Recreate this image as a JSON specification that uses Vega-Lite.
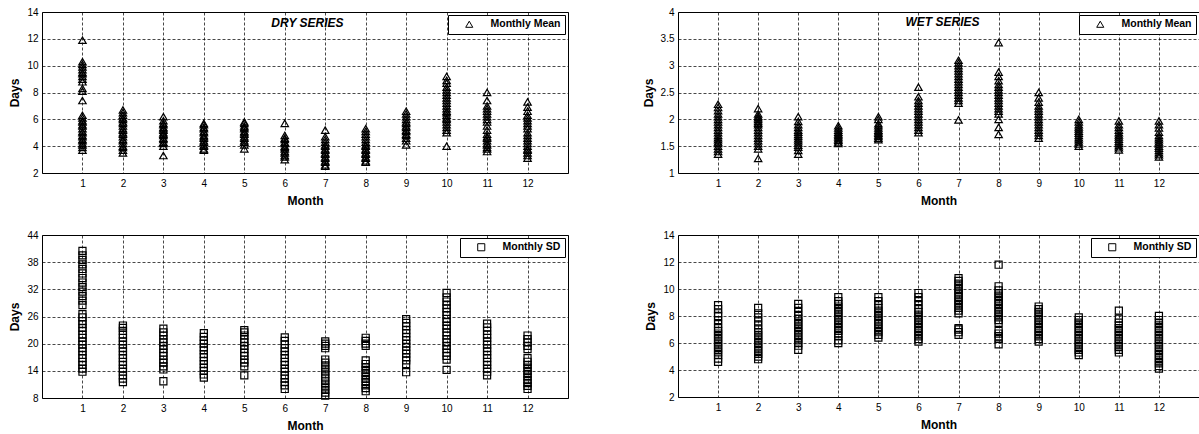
{
  "$schema": "https://vega.github.io/schema/vega-lite/v6.json",
  "padding": {"left": 8, "top": 6, "right": 0, "bottom": 0},
  "background": "white",
  "datasets": {
    "dm": [
      {"m":1,"v":3.7},{"m":1,"v":3.9},{"m":1,"v":4.1},{"m":1,"v":4.2},{"m":1,"v":4.4},{"m":1,"v":4.5},{"m":1,"v":4.7},{"m":1,"v":4.8},{"m":1,"v":5.0},{"m":1,"v":5.1},{"m":1,"v":5.3},{"m":1,"v":5.5},{"m":1,"v":5.6},{"m":1,"v":5.8},{"m":1,"v":5.9},{"m":1,"v":6.1},{"m":1,"v":6.3},{"m":1,"v":7.4},{"m":1,"v":8.1},{"m":1,"v":8.3},{"m":1,"v":8.8},{"m":1,"v":9.0},{"m":1,"v":9.2},{"m":1,"v":9.4},{"m":1,"v":9.5},{"m":1,"v":9.7},{"m":1,"v":9.9},{"m":1,"v":10.1},{"m":1,"v":10.3},{"m":1,"v":11.9},
      {"m":2,"v":3.5},{"m":2,"v":3.7},{"m":2,"v":3.9},{"m":2,"v":4.0},{"m":2,"v":4.2},{"m":2,"v":4.4},{"m":2,"v":4.5},{"m":2,"v":4.7},{"m":2,"v":4.9},{"m":2,"v":5.0},{"m":2,"v":5.2},{"m":2,"v":5.3},{"m":2,"v":5.5},{"m":2,"v":5.7},{"m":2,"v":5.8},{"m":2,"v":6.0},{"m":2,"v":6.1},{"m":2,"v":6.3},{"m":2,"v":6.5},{"m":2,"v":6.7},
      {"m":3,"v":3.3},{"m":3,"v":4.0},{"m":3,"v":4.2},{"m":3,"v":4.3},{"m":3,"v":4.5},{"m":3,"v":4.6},{"m":3,"v":4.8},{"m":3,"v":4.9},{"m":3,"v":5.0},{"m":3,"v":5.2},{"m":3,"v":5.3},{"m":3,"v":5.4},{"m":3,"v":5.6},{"m":3,"v":5.7},{"m":3,"v":5.9},{"m":3,"v":6.2},
      {"m":4,"v":3.7},{"m":4,"v":3.8},{"m":4,"v":4.0},{"m":4,"v":4.1},{"m":4,"v":4.3},{"m":4,"v":4.4},{"m":4,"v":4.6},{"m":4,"v":4.7},{"m":4,"v":4.8},{"m":4,"v":5.0},{"m":4,"v":5.1},{"m":4,"v":5.3},{"m":4,"v":5.4},{"m":4,"v":5.6},{"m":4,"v":5.7},
      {"m":5,"v":3.8},{"m":5,"v":4.1},{"m":5,"v":4.3},{"m":5,"v":4.4},{"m":5,"v":4.6},{"m":5,"v":4.7},{"m":5,"v":4.9},{"m":5,"v":5.0},{"m":5,"v":5.1},{"m":5,"v":5.3},{"m":5,"v":5.4},{"m":5,"v":5.5},{"m":5,"v":5.7},{"m":5,"v":5.8},
      {"m":6,"v":3.0},{"m":6,"v":3.2},{"m":6,"v":3.3},{"m":6,"v":3.5},{"m":6,"v":3.6},{"m":6,"v":3.8},{"m":6,"v":3.9},{"m":6,"v":4.0},{"m":6,"v":4.2},{"m":6,"v":4.3},{"m":6,"v":4.5},{"m":6,"v":4.6},{"m":6,"v":4.8},{"m":6,"v":5.7},
      {"m":7,"v":2.5},{"m":7,"v":2.6},{"m":7,"v":2.8},{"m":7,"v":2.9},{"m":7,"v":3.1},{"m":7,"v":3.2},{"m":7,"v":3.4},{"m":7,"v":3.5},{"m":7,"v":3.7},{"m":7,"v":3.8},{"m":7,"v":4.0},{"m":7,"v":4.1},{"m":7,"v":4.3},{"m":7,"v":4.5},{"m":7,"v":4.7},{"m":7,"v":5.2},
      {"m":8,"v":2.8},{"m":8,"v":2.9},{"m":8,"v":3.1},{"m":8,"v":3.2},{"m":8,"v":3.4},{"m":8,"v":3.5},{"m":8,"v":3.7},{"m":8,"v":3.8},{"m":8,"v":4.0},{"m":8,"v":4.1},{"m":8,"v":4.3},{"m":8,"v":4.5},{"m":8,"v":4.7},{"m":8,"v":4.9},{"m":8,"v":5.1},{"m":8,"v":5.3},
      {"m":9,"v":4.1},{"m":9,"v":4.4},{"m":9,"v":4.6},{"m":9,"v":4.8},{"m":9,"v":4.9},{"m":9,"v":5.1},{"m":9,"v":5.2},{"m":9,"v":5.4},{"m":9,"v":5.5},{"m":9,"v":5.7},{"m":9,"v":5.8},{"m":9,"v":6.0},{"m":9,"v":6.2},{"m":9,"v":6.4},{"m":9,"v":6.6},
      {"m":10,"v":4.0},{"m":10,"v":5.0},{"m":10,"v":5.2},{"m":10,"v":5.4},{"m":10,"v":5.6},{"m":10,"v":5.8},{"m":10,"v":6.0},{"m":10,"v":6.1},{"m":10,"v":6.3},{"m":10,"v":6.5},{"m":10,"v":6.6},{"m":10,"v":6.8},{"m":10,"v":7.0},{"m":10,"v":7.2},{"m":10,"v":7.4},{"m":10,"v":7.6},{"m":10,"v":7.8},{"m":10,"v":8.0},{"m":10,"v":8.2},{"m":10,"v":8.4},{"m":10,"v":8.7},{"m":10,"v":8.9},{"m":10,"v":9.2},
      {"m":11,"v":3.6},{"m":11,"v":3.8},{"m":11,"v":3.9},{"m":11,"v":4.1},{"m":11,"v":4.2},{"m":11,"v":4.4},{"m":11,"v":4.6},{"m":11,"v":4.7},{"m":11,"v":4.9},{"m":11,"v":5.2},{"m":11,"v":5.5},{"m":11,"v":5.8},{"m":11,"v":6.0},{"m":11,"v":6.2},{"m":11,"v":6.4},{"m":11,"v":6.6},{"m":11,"v":6.8},{"m":11,"v":7.0},{"m":11,"v":7.4},{"m":11,"v":8.0},
      {"m":12,"v":3.1},{"m":12,"v":3.3},{"m":12,"v":3.5},{"m":12,"v":3.7},{"m":12,"v":3.8},{"m":12,"v":4.0},{"m":12,"v":4.2},{"m":12,"v":4.4},{"m":12,"v":4.6},{"m":12,"v":4.8},{"m":12,"v":5.0},{"m":12,"v":5.3},{"m":12,"v":5.5},{"m":12,"v":5.7},{"m":12,"v":5.9},{"m":12,"v":6.1},{"m":12,"v":6.3},{"m":12,"v":6.6},{"m":12,"v":6.9},{"m":12,"v":7.3}
    ],
    "wm": [
      {"m":1,"v":1.35},{"m":1,"v":1.4},{"m":1,"v":1.45},{"m":1,"v":1.5},{"m":1,"v":1.55},{"m":1,"v":1.58},{"m":1,"v":1.62},{"m":1,"v":1.66},{"m":1,"v":1.7},{"m":1,"v":1.75},{"m":1,"v":1.8},{"m":1,"v":1.85},{"m":1,"v":1.9},{"m":1,"v":1.95},{"m":1,"v":2.0},{"m":1,"v":2.05},{"m":1,"v":2.1},{"m":1,"v":2.16},{"m":1,"v":2.22},{"m":1,"v":2.28},
      {"m":2,"v":1.27},{"m":2,"v":1.45},{"m":2,"v":1.5},{"m":2,"v":1.55},{"m":2,"v":1.6},{"m":2,"v":1.65},{"m":2,"v":1.7},{"m":2,"v":1.75},{"m":2,"v":1.8},{"m":2,"v":1.85},{"m":2,"v":1.9},{"m":2,"v":1.93},{"m":2,"v":1.96},{"m":2,"v":2.0},{"m":2,"v":2.03},{"m":2,"v":2.06},{"m":2,"v":2.1},{"m":2,"v":2.2},
      {"m":3,"v":1.35},{"m":3,"v":1.42},{"m":3,"v":1.48},{"m":3,"v":1.52},{"m":3,"v":1.56},{"m":3,"v":1.6},{"m":3,"v":1.64},{"m":3,"v":1.68},{"m":3,"v":1.72},{"m":3,"v":1.76},{"m":3,"v":1.8},{"m":3,"v":1.85},{"m":3,"v":1.9},{"m":3,"v":1.96},{"m":3,"v":2.05},
      {"m":4,"v":1.55},{"m":4,"v":1.58},{"m":4,"v":1.61},{"m":4,"v":1.64},{"m":4,"v":1.67},{"m":4,"v":1.7},{"m":4,"v":1.73},{"m":4,"v":1.76},{"m":4,"v":1.8},{"m":4,"v":1.84},{"m":4,"v":1.88},
      {"m":5,"v":1.62},{"m":5,"v":1.65},{"m":5,"v":1.68},{"m":5,"v":1.71},{"m":5,"v":1.74},{"m":5,"v":1.77},{"m":5,"v":1.8},{"m":5,"v":1.84},{"m":5,"v":1.88},{"m":5,"v":1.92},{"m":5,"v":2.0},{"m":5,"v":2.05},
      {"m":6,"v":1.75},{"m":6,"v":1.8},{"m":6,"v":1.85},{"m":6,"v":1.9},{"m":6,"v":1.95},{"m":6,"v":2.0},{"m":6,"v":2.05},{"m":6,"v":2.1},{"m":6,"v":2.15},{"m":6,"v":2.2},{"m":6,"v":2.25},{"m":6,"v":2.3},{"m":6,"v":2.35},{"m":6,"v":2.42},{"m":6,"v":2.6},
      {"m":7,"v":1.99},{"m":7,"v":2.3},{"m":7,"v":2.35},{"m":7,"v":2.4},{"m":7,"v":2.45},{"m":7,"v":2.5},{"m":7,"v":2.55},{"m":7,"v":2.6},{"m":7,"v":2.65},{"m":7,"v":2.7},{"m":7,"v":2.75},{"m":7,"v":2.8},{"m":7,"v":2.85},{"m":7,"v":2.9},{"m":7,"v":2.95},{"m":7,"v":3.0},{"m":7,"v":3.05},{"m":7,"v":3.1},
      {"m":8,"v":1.72},{"m":8,"v":1.85},{"m":8,"v":2.0},{"m":8,"v":2.1},{"m":8,"v":2.15},{"m":8,"v":2.2},{"m":8,"v":2.25},{"m":8,"v":2.3},{"m":8,"v":2.35},{"m":8,"v":2.4},{"m":8,"v":2.45},{"m":8,"v":2.5},{"m":8,"v":2.55},{"m":8,"v":2.6},{"m":8,"v":2.65},{"m":8,"v":2.72},{"m":8,"v":2.8},{"m":8,"v":2.88},{"m":8,"v":3.43},
      {"m":9,"v":1.65},{"m":9,"v":1.7},{"m":9,"v":1.75},{"m":9,"v":1.8},{"m":9,"v":1.85},{"m":9,"v":1.9},{"m":9,"v":1.95},{"m":9,"v":2.0},{"m":9,"v":2.05},{"m":9,"v":2.1},{"m":9,"v":2.15},{"m":9,"v":2.2},{"m":9,"v":2.25},{"m":9,"v":2.32},{"m":9,"v":2.4},{"m":9,"v":2.5},
      {"m":10,"v":1.5},{"m":10,"v":1.54},{"m":10,"v":1.58},{"m":10,"v":1.62},{"m":10,"v":1.66},{"m":10,"v":1.7},{"m":10,"v":1.74},{"m":10,"v":1.78},{"m":10,"v":1.82},{"m":10,"v":1.86},{"m":10,"v":1.9},{"m":10,"v":1.95},{"m":10,"v":2.0},
      {"m":11,"v":1.43},{"m":11,"v":1.47},{"m":11,"v":1.51},{"m":11,"v":1.55},{"m":11,"v":1.59},{"m":11,"v":1.63},{"m":11,"v":1.67},{"m":11,"v":1.71},{"m":11,"v":1.75},{"m":11,"v":1.8},{"m":11,"v":1.85},{"m":11,"v":1.9},{"m":11,"v":1.97},
      {"m":12,"v":1.3},{"m":12,"v":1.34},{"m":12,"v":1.38},{"m":12,"v":1.42},{"m":12,"v":1.46},{"m":12,"v":1.5},{"m":12,"v":1.54},{"m":12,"v":1.58},{"m":12,"v":1.62},{"m":12,"v":1.66},{"m":12,"v":1.7},{"m":12,"v":1.76},{"m":12,"v":1.84},{"m":12,"v":1.9},{"m":12,"v":1.97}
    ],
    "ds": [
      {"m":1,"v":13.8},{"m":1,"v":14.5},{"m":1,"v":15.3},{"m":1,"v":16.0},{"m":1,"v":16.8},{"m":1,"v":17.5},{"m":1,"v":18.3},{"m":1,"v":19.0},{"m":1,"v":19.8},{"m":1,"v":20.5},{"m":1,"v":21.3},{"m":1,"v":22.0},{"m":1,"v":22.8},{"m":1,"v":23.5},{"m":1,"v":24.3},{"m":1,"v":25.0},{"m":1,"v":25.8},{"m":1,"v":26.5},{"m":1,"v":28.5},{"m":1,"v":29.5},{"m":1,"v":30.5},{"m":1,"v":31.5},{"m":1,"v":32.5},{"m":1,"v":33.5},{"m":1,"v":34.5},{"m":1,"v":35.5},{"m":1,"v":36.5},{"m":1,"v":37.5},{"m":1,"v":38.5},{"m":1,"v":39.5},{"m":1,"v":40.5},
      {"m":2,"v":11.5},{"m":2,"v":12.3},{"m":2,"v":13.0},{"m":2,"v":13.8},{"m":2,"v":14.5},{"m":2,"v":15.3},{"m":2,"v":16.0},{"m":2,"v":16.8},{"m":2,"v":17.5},{"m":2,"v":18.3},{"m":2,"v":19.0},{"m":2,"v":19.8},{"m":2,"v":20.5},{"m":2,"v":21.3},{"m":2,"v":22.0},{"m":2,"v":22.8},{"m":2,"v":23.5},{"m":2,"v":24.0},
      {"m":3,"v":11.7},{"m":3,"v":14.3},{"m":3,"v":15.0},{"m":3,"v":15.8},{"m":3,"v":16.5},{"m":3,"v":17.3},{"m":3,"v":18.0},{"m":3,"v":18.8},{"m":3,"v":19.5},{"m":3,"v":20.3},{"m":3,"v":21.0},{"m":3,"v":21.8},{"m":3,"v":22.5},{"m":3,"v":23.3},
      {"m":4,"v":12.5},{"m":4,"v":13.2},{"m":4,"v":14.0},{"m":4,"v":14.7},{"m":4,"v":15.5},{"m":4,"v":16.2},{"m":4,"v":17.0},{"m":4,"v":17.7},{"m":4,"v":18.5},{"m":4,"v":19.2},{"m":4,"v":20.0},{"m":4,"v":20.7},{"m":4,"v":21.5},{"m":4,"v":22.3},
      {"m":5,"v":13.0},{"m":5,"v":15.0},{"m":5,"v":15.8},{"m":5,"v":16.5},{"m":5,"v":17.3},{"m":5,"v":18.0},{"m":5,"v":18.8},{"m":5,"v":19.5},{"m":5,"v":20.3},{"m":5,"v":21.0},{"m":5,"v":21.8},{"m":5,"v":22.5},{"m":5,"v":23.0},
      {"m":6,"v":10.0},{"m":6,"v":10.8},{"m":6,"v":11.5},{"m":6,"v":12.3},{"m":6,"v":13.0},{"m":6,"v":13.8},{"m":6,"v":14.5},{"m":6,"v":15.3},{"m":6,"v":16.0},{"m":6,"v":16.8},{"m":6,"v":17.5},{"m":6,"v":18.3},{"m":6,"v":19.0},{"m":6,"v":19.8},{"m":6,"v":20.6},{"m":6,"v":21.4},
      {"m":7,"v":8.5},{"m":7,"v":9.2},{"m":7,"v":9.8},{"m":7,"v":10.5},{"m":7,"v":11.2},{"m":7,"v":11.8},{"m":7,"v":12.5},{"m":7,"v":13.2},{"m":7,"v":13.8},{"m":7,"v":14.5},{"m":7,"v":15.2},{"m":7,"v":15.8},{"m":7,"v":16.5},{"m":7,"v":19.0},{"m":7,"v":19.5},{"m":7,"v":20.0},{"m":7,"v":20.5},
      {"m":8,"v":9.5},{"m":8,"v":10.2},{"m":8,"v":10.8},{"m":8,"v":11.5},{"m":8,"v":12.2},{"m":8,"v":12.8},{"m":8,"v":13.5},{"m":8,"v":14.2},{"m":8,"v":14.8},{"m":8,"v":15.5},{"m":8,"v":16.3},{"m":8,"v":19.5},{"m":8,"v":20.0},{"m":8,"v":20.6},{"m":8,"v":21.3},
      {"m":9,"v":13.7},{"m":9,"v":15.5},{"m":9,"v":16.3},{"m":9,"v":17.0},{"m":9,"v":17.8},{"m":9,"v":18.5},{"m":9,"v":19.3},{"m":9,"v":20.0},{"m":9,"v":20.8},{"m":9,"v":21.5},{"m":9,"v":22.3},{"m":9,"v":23.0},{"m":9,"v":23.8},{"m":9,"v":24.6},{"m":9,"v":25.4},
      {"m":10,"v":14.2},{"m":10,"v":16.5},{"m":10,"v":17.3},{"m":10,"v":18.0},{"m":10,"v":18.8},{"m":10,"v":19.5},{"m":10,"v":20.3},{"m":10,"v":21.0},{"m":10,"v":21.8},{"m":10,"v":22.5},{"m":10,"v":23.3},{"m":10,"v":24.0},{"m":10,"v":24.8},{"m":10,"v":25.5},{"m":10,"v":26.3},{"m":10,"v":27.0},{"m":10,"v":27.8},{"m":10,"v":28.5},{"m":10,"v":29.3},{"m":10,"v":30.2},{"m":10,"v":31.2},
      {"m":11,"v":13.0},{"m":11,"v":13.8},{"m":11,"v":14.5},{"m":11,"v":15.3},{"m":11,"v":16.0},{"m":11,"v":16.8},{"m":11,"v":17.5},{"m":11,"v":18.3},{"m":11,"v":19.0},{"m":11,"v":19.8},{"m":11,"v":20.5},{"m":11,"v":21.3},{"m":11,"v":22.0},{"m":11,"v":22.8},{"m":11,"v":23.6},{"m":11,"v":24.4},
      {"m":12,"v":10.0},{"m":12,"v":10.7},{"m":12,"v":11.3},{"m":12,"v":12.0},{"m":12,"v":12.7},{"m":12,"v":13.3},{"m":12,"v":14.0},{"m":12,"v":14.7},{"m":12,"v":15.3},{"m":12,"v":16.0},{"m":12,"v":16.8},{"m":12,"v":18.8},{"m":12,"v":19.5},{"m":12,"v":20.3},{"m":12,"v":21.0},{"m":12,"v":21.8}
    ],
    "ws": [
      {"m":1,"v":4.6},{"m":1,"v":4.85},{"m":1,"v":5.1},{"m":1,"v":5.3},{"m":1,"v":5.5},{"m":1,"v":5.7},{"m":1,"v":5.9},{"m":1,"v":6.1},{"m":1,"v":6.3},{"m":1,"v":6.5},{"m":1,"v":6.7},{"m":1,"v":6.9},{"m":1,"v":7.1},{"m":1,"v":7.4},{"m":1,"v":7.7},{"m":1,"v":8.0},{"m":1,"v":8.2},{"m":1,"v":8.5},{"m":1,"v":8.8},
      {"m":2,"v":4.8},{"m":2,"v":5.0},{"m":2,"v":5.2},{"m":2,"v":5.4},{"m":2,"v":5.6},{"m":2,"v":5.8},{"m":2,"v":6.0},{"m":2,"v":6.2},{"m":2,"v":6.4},{"m":2,"v":6.6},{"m":2,"v":6.8},{"m":2,"v":7.0},{"m":2,"v":7.3},{"m":2,"v":7.6},{"m":2,"v":7.9},{"m":2,"v":8.2},{"m":2,"v":8.6},
      {"m":3,"v":5.5},{"m":3,"v":5.8},{"m":3,"v":6.0},{"m":3,"v":6.2},{"m":3,"v":6.4},{"m":3,"v":6.6},{"m":3,"v":6.8},{"m":3,"v":7.0},{"m":3,"v":7.2},{"m":3,"v":7.4},{"m":3,"v":7.6},{"m":3,"v":7.8},{"m":3,"v":8.0},{"m":3,"v":8.3},{"m":3,"v":8.6},{"m":3,"v":8.9},
      {"m":4,"v":6.0},{"m":4,"v":6.2},{"m":4,"v":6.5},{"m":4,"v":6.7},{"m":4,"v":6.9},{"m":4,"v":7.1},{"m":4,"v":7.3},{"m":4,"v":7.5},{"m":4,"v":7.7},{"m":4,"v":7.9},{"m":4,"v":8.1},{"m":4,"v":8.3},{"m":4,"v":8.5},{"m":4,"v":8.7},{"m":4,"v":8.9},{"m":4,"v":9.1},{"m":4,"v":9.4},
      {"m":5,"v":6.4},{"m":5,"v":6.6},{"m":5,"v":6.8},{"m":5,"v":7.0},{"m":5,"v":7.2},{"m":5,"v":7.4},{"m":5,"v":7.6},{"m":5,"v":7.8},{"m":5,"v":8.0},{"m":5,"v":8.2},{"m":5,"v":8.4},{"m":5,"v":8.6},{"m":5,"v":8.8},{"m":5,"v":9.1},{"m":5,"v":9.4},
      {"m":6,"v":6.1},{"m":6,"v":6.3},{"m":6,"v":6.5},{"m":6,"v":6.7},{"m":6,"v":6.9},{"m":6,"v":7.1},{"m":6,"v":7.3},{"m":6,"v":7.5},{"m":6,"v":7.7},{"m":6,"v":7.9},{"m":6,"v":8.1},{"m":6,"v":8.3},{"m":6,"v":8.5},{"m":6,"v":8.8},{"m":6,"v":9.1},{"m":6,"v":9.4},{"m":6,"v":9.7},
      {"m":7,"v":6.6},{"m":7,"v":6.8},{"m":7,"v":7.0},{"m":7,"v":7.1},{"m":7,"v":8.2},{"m":7,"v":8.4},{"m":7,"v":8.6},{"m":7,"v":8.8},{"m":7,"v":9.0},{"m":7,"v":9.2},{"m":7,"v":9.4},{"m":7,"v":9.6},{"m":7,"v":9.8},{"m":7,"v":10.0},{"m":7,"v":10.2},{"m":7,"v":10.4},{"m":7,"v":10.6},{"m":7,"v":10.8},
      {"m":8,"v":5.9},{"m":8,"v":6.3},{"m":8,"v":6.5},{"m":8,"v":6.7},{"m":8,"v":6.9},{"m":8,"v":7.5},{"m":8,"v":7.7},{"m":8,"v":7.9},{"m":8,"v":8.1},{"m":8,"v":8.3},{"m":8,"v":8.5},{"m":8,"v":8.7},{"m":8,"v":8.9},{"m":8,"v":9.1},{"m":8,"v":9.3},{"m":8,"v":9.5},{"m":8,"v":9.7},{"m":8,"v":9.9},{"m":8,"v":10.2},{"m":8,"v":11.8},
      {"m":9,"v":6.1},{"m":9,"v":6.3},{"m":9,"v":6.5},{"m":9,"v":6.7},{"m":9,"v":6.9},{"m":9,"v":7.1},{"m":9,"v":7.3},{"m":9,"v":7.5},{"m":9,"v":7.7},{"m":9,"v":7.9},{"m":9,"v":8.1},{"m":9,"v":8.3},{"m":9,"v":8.5},{"m":9,"v":8.7},
      {"m":10,"v":5.1},{"m":10,"v":5.3},{"m":10,"v":5.5},{"m":10,"v":5.7},{"m":10,"v":5.9},{"m":10,"v":6.1},{"m":10,"v":6.3},{"m":10,"v":6.5},{"m":10,"v":6.7},{"m":10,"v":6.9},{"m":10,"v":7.1},{"m":10,"v":7.3},{"m":10,"v":7.5},{"m":10,"v":7.7},{"m":10,"v":7.9},
      {"m":11,"v":5.3},{"m":11,"v":5.5},{"m":11,"v":5.7},{"m":11,"v":5.9},{"m":11,"v":6.1},{"m":11,"v":6.3},{"m":11,"v":6.5},{"m":11,"v":6.7},{"m":11,"v":6.9},{"m":11,"v":7.1},{"m":11,"v":7.3},{"m":11,"v":7.5},{"m":11,"v":7.8},{"m":11,"v":8.4},
      {"m":12,"v":4.1},{"m":12,"v":4.3},{"m":12,"v":4.5},{"m":12,"v":4.7},{"m":12,"v":4.9},{"m":12,"v":5.1},{"m":12,"v":5.3},{"m":12,"v":5.5},{"m":12,"v":5.7},{"m":12,"v":5.9},{"m":12,"v":6.1},{"m":12,"v":6.3},{"m":12,"v":6.5},{"m":12,"v":6.7},{"m":12,"v":6.9},{"m":12,"v":7.1},{"m":12,"v":7.3},{"m":12,"v":7.5},{"m":12,"v":7.7},{"m":12,"v":8.0}
    ]
  },
  "columns": 2,
  "spacing": {"column": 72, "row": 22},
  "resolve": {"scale": {"x": "independent", "y": "independent", "shape": "independent"}, "legend": {"shape": "independent"}},
  "concat": [
    {
      "width": 526, "height": 161,
      "layer": [
        {
          "data": {"name": "dm"},
          "mark": {"type": "point", "filled": false, "stroke": "black", "strokeWidth": 1.2, "size": 55, "opacity": 1},
          "encoding": {
            "x": {"field": "m", "type": "quantitative", "scale": {"domain": [0, 13]}, "axis": {"values": [1,2,3,4,5,6,7,8,9,10,11,12], "tickCount": 20, "format": "d", "title": "Month"}},
            "y": {"field": "v", "type": "quantitative", "scale": {"domain": [2, 14]}, "axis": {"values": [2,4,6,8,10,12,14], "tickCount": 20, "title": "Days", "format": "~g"}},
            "shape": {"datum": "Monthly Mean", "scale": {"range": ["triangle-up"]}, "legend": {"title": null}}
          }
        },
        {
          "data": {"values": [{"t": "DRY SERIES", "x": 6.56, "y": 13.18}]},
          "mark": {"type": "text", "fontStyle": "italic", "fontWeight": "bold", "fontSize": 12, "font": "Liberation Sans", "fill": "black"},
          "encoding": {"x": {"field": "x", "type": "quantitative"}, "y": {"field": "y", "type": "quantitative"}, "text": {"field": "t"}}
        }
      ]
    },
    {
      "width": 521, "height": 161,
      "layer": [
        {
          "data": {"name": "wm"},
          "mark": {"type": "point", "filled": false, "stroke": "black", "strokeWidth": 1.2, "size": 55, "opacity": 1},
          "encoding": {
            "x": {"field": "m", "type": "quantitative", "scale": {"domain": [0, 13]}, "axis": {"values": [1,2,3,4,5,6,7,8,9,10,11,12], "tickCount": 20, "format": "d", "title": "Month"}},
            "y": {"field": "v", "type": "quantitative", "scale": {"domain": [1, 4]}, "axis": {"values": [1,1.5,2,2.5,3,3.5,4], "tickCount": 20, "title": "Days", "format": "~g"}},
            "shape": {"datum": "Monthly Mean", "scale": {"range": ["triangle-up"]}, "legend": {"title": null}}
          }
        },
        {
          "data": {"values": [{"t": "WET SERIES", "x": 6.6, "y": 3.81}]},
          "mark": {"type": "text", "fontStyle": "italic", "fontWeight": "bold", "fontSize": 12, "font": "Liberation Sans", "fill": "black"},
          "encoding": {"x": {"field": "x", "type": "quantitative"}, "y": {"field": "y", "type": "quantitative"}, "text": {"field": "t"}}
        }
      ]
    },
    {
      "width": 526, "height": 163,
      "data": {"name": "ds"},
      "mark": {"type": "point", "filled": false, "stroke": "black", "strokeWidth": 1.2, "size": 50, "opacity": 1},
      "encoding": {
        "x": {"field": "m", "type": "quantitative", "scale": {"domain": [0, 13]}, "axis": {"values": [1,2,3,4,5,6,7,8,9,10,11,12], "tickCount": 20, "format": "d", "title": "Month"}},
        "y": {"field": "v", "type": "quantitative", "scale": {"domain": [8, 44]}, "axis": {"values": [8,14,20,26,32,38,44], "tickCount": 20, "title": "Days", "format": "~g"}},
        "shape": {"datum": "Monthly SD", "scale": {"range": ["square"]}, "legend": {"title": null}}
      }
    },
    {
      "width": 521, "height": 162,
      "data": {"name": "ws"},
      "mark": {"type": "point", "filled": false, "stroke": "black", "strokeWidth": 1.2, "size": 50, "opacity": 1},
      "encoding": {
        "x": {"field": "m", "type": "quantitative", "scale": {"domain": [0, 13]}, "axis": {"values": [1,2,3,4,5,6,7,8,9,10,11,12], "tickCount": 20, "format": "d", "title": "Month"}},
        "y": {"field": "v", "type": "quantitative", "scale": {"domain": [2, 14]}, "axis": {"values": [2,4,6,8,10,12,14], "tickCount": 20, "title": "Days", "format": "~g"}},
        "shape": {"datum": "Monthly SD", "scale": {"range": ["square"]}, "legend": {"title": null}}
      }
    }
  ],
  "config": {
    "font": "Liberation Sans",
    "view": {"stroke": "black", "strokeWidth": 1},
    "axis": {
      "domain": false,
      "ticks": false,
      "grid": true,
      "gridColor": "black",
      "gridDash": [3, 2],
      "gridWidth": 0.8,
      "gridOpacity": 0.9,
      "labelFont": "Liberation Sans",
      "labelFontSize": 10,
      "labelColor": "black",
      "labelOverlap": false,
      "labelPadding": 4,
      "titleFont": "Liberation Sans",
      "titleFontSize": 12,
      "titleFontWeight": "bold",
      "titleColor": "black",
      "titlePadding": 4
    },
    "axisX": {"labelPadding": 5, "titlePadding": 7},
    "axisY": {"labelPadding": 4, "titlePadding": 5},
    "legend": {
      "orient": "top-right",
      "offset": 3,
      "strokeColor": "black",
      "fillColor": "white",
      "padding": 4,
      "labelFont": "Liberation Sans",
      "labelFontSize": 10.5,
      "labelFontWeight": "bold",
      "labelColor": "black",
      "labelOffset": 16,
      "symbolOffset": 12,
      "symbolSize": 50,
      "symbolStrokeColor": "black",
      "symbolFillColor": "white",
      "symbolStrokeWidth": 1
    }
  }
}
